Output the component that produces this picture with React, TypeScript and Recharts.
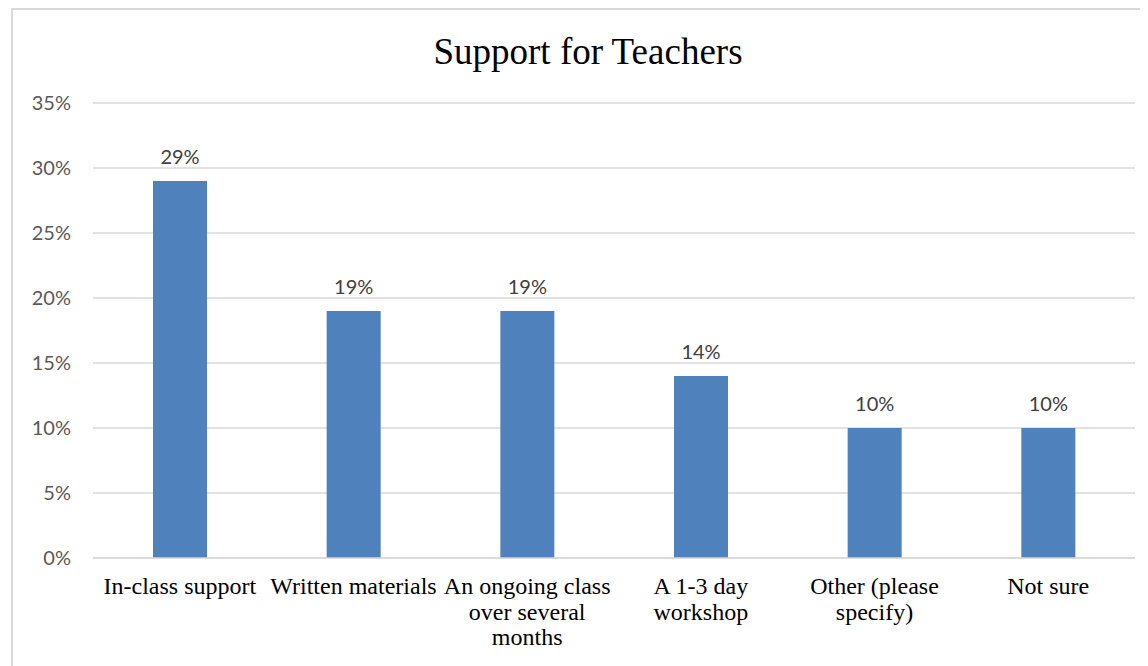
import React from 'react';
import { BarChart, Bar, XAxis, YAxis, CartesianGrid, LabelList } from 'recharts';

const categories = [
  'In-class support',
  'Written materials',
  'An ongoing class over several months',
  'A 1-3 day workshop',
  'Other (please specify)',
  'Not sure',
];
const shares = [29, 19, 19, 14, 10, 10];
const tickLines = [
  ['In-class support'],
  ['Written materials'],
  ['An ongoing class', 'over several', 'months'],
  ['A 1-3 day', 'workshop'],
  ['Other (please', 'specify)'],
  ['Not sure'],
];
const yTicks = [0, 5, 10, 15, 20, 25, 30, 35];

const data = categories.map((name, i) => ({ name, value: shares[i] }));

const CategoryTick = (props: any) => {
  const { x, y, index } = props;
  const lines = tickLines[index] || [props.payload.value];
  return (
    <g>
      {lines.map((line: string, i: number) => (
        <text
          key={i}
          x={x}
          y={y + 28 + i * 25.5}
          textAnchor="middle"
          fontFamily="'Liberation Serif', 'Times New Roman', serif"
          fontSize={24}
          fill="#000"
        >
          {line}
        </text>
      ))}
    </g>
  );
};

const App: React.FC = () => {
  return (
    <div style={{ position: 'relative', width: 1140, height: 658, overflow: 'hidden' }}>
      <div
        style={{
          position: 'absolute',
          left: 3,
          top: 0,
          width: 1200,
          height: 720,
          border: '2px solid #D9D9D9',
          boxSizing: 'border-box',
          background: '#fff',
        }}
      >
        <div
          style={{
            position: 'absolute',
            left: 0,
            top: 23,
            width: 1150,
            textAlign: 'center',
            fontFamily: "'Liberation Serif', 'Times New Roman', serif",
            fontSize: 37,
            lineHeight: '37px',
            color: '#000',
          }}
        >
          Support for Teachers
        </div>
        <BarChart
          width={1150}
          height={680}
          data={data}
          margin={{ top: 93, right: 28, bottom: 12, left: 20 }}
          barSize={54}
        >
          <CartesianGrid vertical={false} stroke="#D9D9D9" strokeWidth={1.5} />
          <XAxis
            dataKey="name"
            interval={0}
            height={120}
            tickLine={false}
            axisLine={{ stroke: '#D9D9D9', strokeWidth: 1.5 }}
            tick={<CategoryTick />}
          />
          <YAxis
            width={60}
            domain={[0, 35]}
            ticks={yTicks}
            tickFormatter={(v: number) => `${v}%`}
            axisLine={false}
            tickLine={false}
            tickSize={6}
            tickMargin={16}
            tick={{ fill: '#595959', fontSize: 20, fontFamily: 'Lato, sans-serif' }}
          />
          <Bar dataKey="value" fill="#4F81BD" isAnimationActive={false}>
            <LabelList
              dataKey="value"
              position="top"
              offset={17}
              formatter={(v: number) => `${v}%`}
              fill="#404040"
              fontSize={20}
              fontFamily="Lato, sans-serif"
            />
          </Bar>
        </BarChart>
      </div>
    </div>
  );
};

export default App;
